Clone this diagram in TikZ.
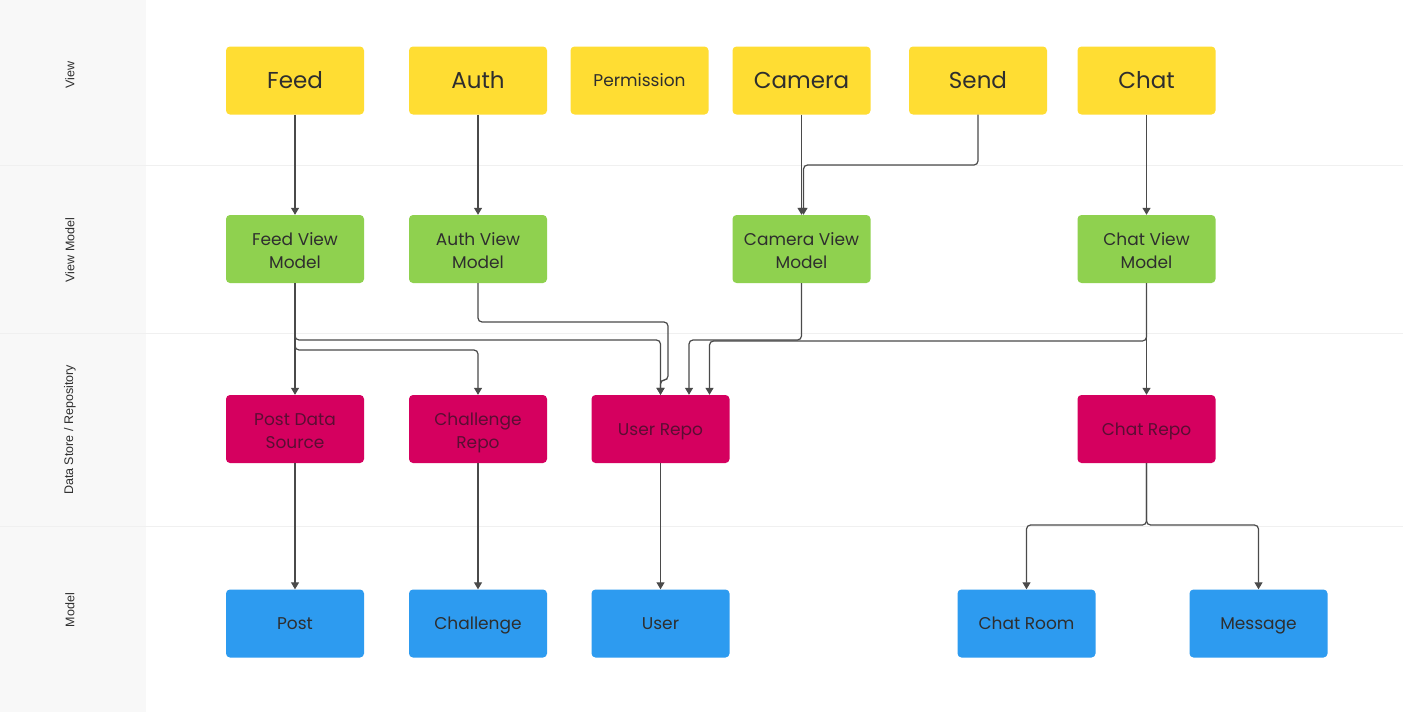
\documentclass[tikz,border=0pt]{standalone}
\usepackage{fontspec}
\setmainfont{Poppins}
\newfontfamily\lblfont{Liberation Sans}
\usetikzlibrary{arrows.meta}
\definecolor{yel}{HTML}{FFDD33}
\definecolor{grn}{HTML}{8FD14F}
\definecolor{mag}{HTML}{D5005F}
\definecolor{blu}{HTML}{2D9BF0}
\definecolor{txt}{HTML}{2E2E2E}
\definecolor{magtxt}{HTML}{5A0E33}
\definecolor{band}{HTML}{F8F8F8}
\definecolor{sep}{HTML}{F0F0F0}
\definecolor{conncol}{HTML}{4A4A4A}
\newcommand{\onestrut}{\rule[-0.3em]{0pt}{1.33em}}
\newcommand{\twol}[2]{\raisebox{-3pt}[\height][\depth]{\begin{tabular}{@{}c@{}}#1\\#2\end{tabular}}}
\begin{document}
\begin{tikzpicture}[x=1pt,y=-1pt,
 box/.style={rounded corners=4pt, minimum width=138pt, minimum height=68pt, inner sep=0pt, align=center, text=txt, font=\fontsize{17}{23}\selectfont, execute at begin node=\onestrut},
 vbox/.style={box, fill=yel},
 big/.style={font=\fontsize{23}{28}\selectfont},
 vmbox/.style={box, fill=grn},
 rbox/.style={box, fill=mag, text=magtxt},
 mbox/.style={box, fill=blu},
 conn/.style={draw=conncol, line width=1.2pt, rounded corners=4pt, -{Triangle[width=8pt,length=7pt]}},
 lane/.style={rotate=90, font=\lblfont\fontsize{12.5}{14}\selectfont, text=txt}
]
\useasboundingbox (0,0) rectangle (1403,712);
\fill[white] (0,0) rectangle (1403,712);
\fill[band] (0,0) rectangle (146,712);
\foreach \yy in {165,333,526} \draw[sep, line width=1pt] (0,\yy) -- (1403,\yy);

\node[lane] (l1) at (70,75) {View};
\node[lane] (l2) at (70,250) {View Model};
\node[lane] (l3) at (70,430) {Data Store / Repository};
\node[lane] (l4) at (70,610) {Model};

% Views
\node[vbox,big] (feed) at (295,80.5) {Feed};
\node[vbox,big] (auth) at (478,80.5) {Auth};
\node[vbox] (perm) at (639.5,80.5) {Permission};
\node[vbox,big] (cam) at (801.5,80.5) {Camera};
\node[vbox,big] (send) at (978,80.5) {Send};
\node[vbox,big] (chat) at (1146.5,80.5) {Chat};

% View models
\node[vmbox] (feedvm) at (295,249) {\twol{Feed View}{Model}};
\node[vmbox] (authvm) at (478,249) {\twol{Auth View}{Model}};
\node[vmbox] (camvm) at (801.5,249) {\twol{Camera View}{Model}};
\node[vmbox] (chatvm) at (1146.5,249) {\twol{Chat View}{Model}};

% Repositories
\node[rbox] (postds) at (295,429) {\twol{Post Data}{Source}};
\node[rbox] (challrepo) at (478,429) {\twol{Challenge}{Repo}};
\node[rbox] (userrepo) at (660.5,429) {User Repo};
\node[rbox] (chatrepo) at (1146.5,429) {Chat Repo};

% Models
\node[mbox] (post) at (295,623.5) {Post};
\node[mbox] (challenge) at (478,623.5) {Challenge};
\node[mbox] (user) at (660.5,623.5) {User};
\node[mbox] (chatroom) at (1026.5,623.5) {Chat Room};
\node[mbox] (message) at (1258.5,623.5) {Message};

% Connectors
\draw[conn] (feed.south) -- (feedvm.north);
\draw[conn] (auth.south) -- (authvm.north);
\draw[conn] (cam.south) -- (camvm.north);
\draw[conn] (send.south) -- (send.south |- 0,165) -| ([xshift=2pt]camvm.north);
\draw[conn] (chat.south) -- (chatvm.north);

\draw[conn] (feedvm.south) -- (postds.north);
\draw[conn] (feedvm.south) -- (feedvm.south |- 0,350) -| (challrepo.north);
\draw[conn] (feedvm.south) -- (feedvm.south |- 0,340) -| (userrepo.north);
\draw[conn] (authvm.south) -- (authvm.south |- 0,322) -- (668,322) -- (668,380) -| (userrepo.north);
\draw[conn] (camvm.south) -- (camvm.south |- 0,340) -| ([xshift=28.5pt]userrepo.north);
\draw[conn] (chatvm.south) -- (chatvm.south |- 0,341) -| ([xshift=49pt]userrepo.north);
\draw[conn] (chatvm.south) -- (chatrepo.north);

\draw[conn] (postds.south) -- (post.north);
\draw[conn] (challrepo.south) -- (challenge.north);
\draw[conn] (userrepo.south) -- (user.north);
\draw[conn] (chatrepo.south) -- (chatrepo.south |- 0,525) -| (chatroom.north);
\draw[conn] (chatrepo.south) -- (chatrepo.south |- 0,525) -| (message.north);
\end{tikzpicture}
\end{document}
